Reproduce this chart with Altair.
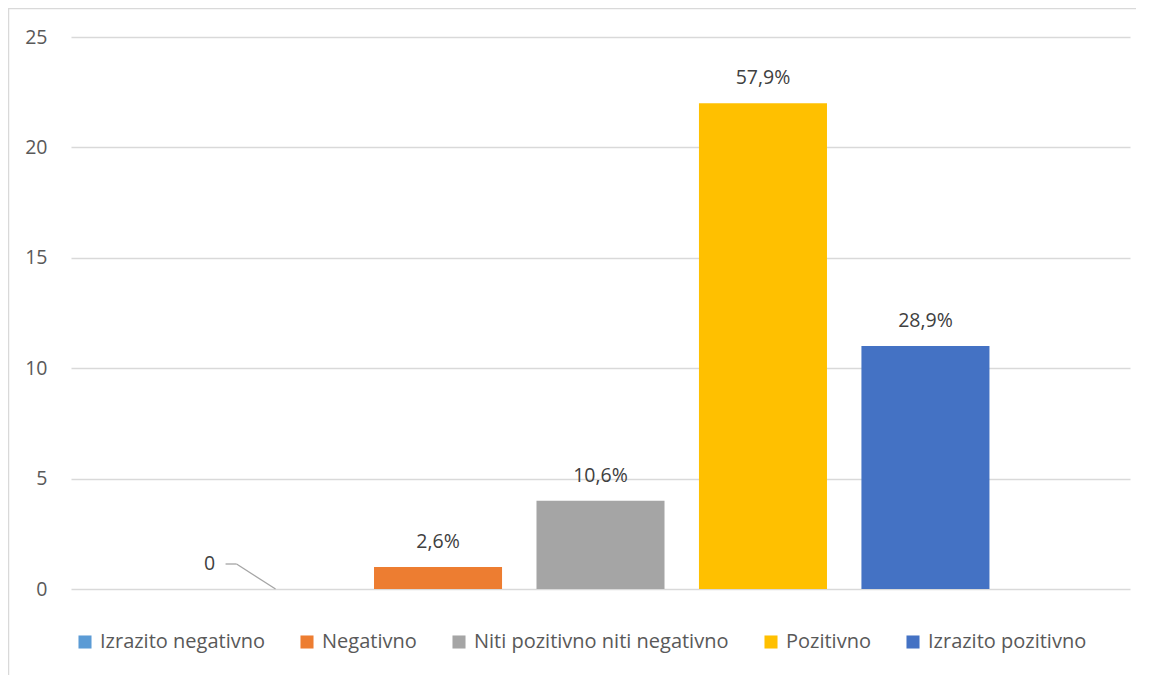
import altair as alt
import pandas as pd

categories = ["Izrazito negativno", "Negativno", "Niti pozitivno niti negativno", "Pozitivno", "Izrazito pozitivno"]
counts = [0, 1, 4, 22, 11]
labels = ["0", "2,6%", "10,6%", "57,9%", "28,9%"]
colors = ["#5B9BD5", "#ED7D31", "#A5A5A5", "#FFC000", "#4472C4"]
y_ticks = [0, 5, 10, 15, 20, 25]

df = pd.DataFrame({"cat": categories, "v": counts, "lab": labels})

FONT = "Open Sans"
FS = 19.5
LFS = 20
W, H = 1059, 552

xenc = alt.X("cat:N", sort=categories, axis=None,
             scale=alt.Scale(paddingInner=0.212, paddingOuter=0.865))
yscale = alt.Scale(domain=[0, 25], nice=False)

bars = alt.Chart(df).mark_bar().encode(
    x=xenc,
    y=alt.Y("v:Q", scale=yscale,
            axis=alt.Axis(values=y_ticks, title=None, domain=False, ticks=False,
                          labelPadding=24, labelFontSize=FS, labelColor="#595959",
                          labelFont=FONT, gridColor="#D9D9D9", gridWidth=1.3)),
    color=alt.Color("cat:N", sort=categories,
                    scale=alt.Scale(domain=categories, range=colors),
                    legend=alt.Legend(title=None, orient="none", direction="horizontal",
                                      legendX=4, legendY=595, columns=5,
                                      symbolType="square", symbolSize=170,
                                      symbolStrokeWidth=0, labelFontSize=LFS,
                                      labelFont=FONT, labelColor="#595959",
                                      labelOffset=5, columnPadding=32,
                                      labelLimit=400)),
)

nonzero = alt.Chart(df).transform_filter("datum.v > 0")
zero = alt.Chart(df).transform_filter("datum.v == 0")

text = nonzero.mark_text(baseline="middle", dy=-25, fontSize=FS, font=FONT,
                         color="#404040").encode(
    x=xenc, y=alt.Y("v:Q", scale=yscale), text="lab:N")

zero_text = zero.mark_text(baseline="middle", dx=-66, dy=-25, fontSize=FS,
                           font=FONT, color="#404040").encode(
    x=xenc, y=alt.Y("v:Q", scale=yscale), text="lab:N")

leader_diag = zero.mark_rule(color="#A5A5A5", strokeWidth=1.3,
                             xOffset=-39, yOffset=-25, x2Offset=0, y2Offset=0).encode(
    x=xenc, x2="cat:N", y=alt.Y("v:Q", scale=yscale), y2="v:Q")

leader_h = zero.mark_rule(color="#A5A5A5", strokeWidth=1.3,
                          xOffset=-50, yOffset=-25, x2Offset=-39, y2Offset=-25).encode(
    x=xenc, x2="cat:N", y=alt.Y("v:Q", scale=yscale), y2="v:Q")

border = alt.Chart(df.head(1)).mark_rect(fill=None, stroke="#D9D9D9", strokeWidth=1.5).encode(
    x=alt.value(-62.5), x2=alt.value(1300), y=alt.value(-28.5), y2=alt.value(800))

chart = alt.layer(border, bars, text, zero_text, leader_h, leader_diag).properties(
    width=W, height=H,
    autosize=alt.AutoSizeParams(type="none"),
    padding={"left": 63, "top": 29, "right": 6, "bottom": 86},
).configure(font=FONT).configure_view(stroke=None)

chart.save("out.html", embed_options={"renderer": "svg", "actions": False})
